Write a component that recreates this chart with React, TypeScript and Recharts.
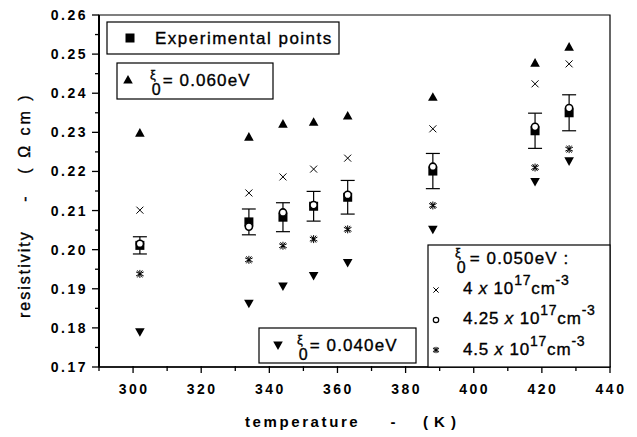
import React from "react";
import { ScatterChart, Scatter, XAxis, YAxis, ErrorBar, ReferenceArea } from "recharts";

const temps = [302, 334, 344, 353, 363, 388, 418, 428];
const xi060 = [0.2298, 0.2288, 0.2321, 0.2326, 0.2342, 0.239, 0.2477, 0.2518];
const n400 = [0.2101, 0.2145, 0.2186, 0.2206, 0.2234, 0.2309, 0.2424, 0.2475];
const n425 = [0.2015, 0.2059, 0.2095, 0.2114, 0.214, 0.2212, 0.2314, 0.2362];
const n450 = [0.1938, 0.1974, 0.201, 0.2027, 0.2052, 0.2113, 0.221, 0.2257];
const xi040 = [0.179, 0.1863, 0.1907, 0.1934, 0.1967, 0.2052, 0.2174, 0.2227];
const expVals = [0.2011, 0.2071, 0.2083, 0.2111, 0.2134, 0.2201, 0.2304, 0.235];
const expErr = [0.0022, 0.0033, 0.0037, 0.0038, 0.0043, 0.0045, 0.0045, 0.0046];

const xMajor = [300, 320, 340, 360, 380, 400, 420, 440];
const xMinor = [290, 310, 330, 350, 370, 390, 410, 430];
const yMajor = [0.17, 0.18, 0.19, 0.2, 0.21, 0.22, 0.23, 0.24, 0.25, 0.26];
const yMinor = [0.175, 0.185, 0.195, 0.205, 0.215, 0.225, 0.235, 0.245, 0.255];

const FONT = "'Liberation Sans', Arial, sans-serif";

const mk = (vals: number[], err?: number[]) =>
  temps.map((t, i) => ({ t, v: vals[i], err: err ? err[i] : 0 }));

const triUp = (cx: number, cy: number, s = 1) => (
  <path d={`M${cx},${cy - 5 * s} L${cx + 4.8 * s},${cy + 3.6 * s} L${cx - 4.8 * s},${cy + 3.6 * s} Z`} fill="#000" />
);
const triDown = (cx: number, cy: number, s = 1) => (
  <path d={`M${cx},${cy + 5 * s} L${cx + 4.8 * s},${cy - 3.6 * s} L${cx - 4.8 * s},${cy - 3.6 * s} Z`} fill="#000" />
);
const xMark = (cx: number, cy: number, s = 1) => (
  <path
    d={`M${cx - 3.5 * s},${cy - 3.5 * s} L${cx + 3.5 * s},${cy + 3.5 * s} M${cx + 3.5 * s},${cy - 3.5 * s} L${cx - 3.5 * s},${cy + 3.5 * s}`}
    stroke="#000"
    strokeWidth={1}
    fill="none"
  />
);
const circ = (cx: number, cy: number, s = 1) => (
  <circle cx={cx} cy={cy} r={3.6 * s} fill="#fff" stroke="#000" strokeWidth={1.6 * s} />
);
const sq = (cx: number, cy: number) => <rect x={cx - 4.5} y={cy - 4.5} width={9} height={9} fill="#000" />;
const star = (cx: number, cy: number, s = 1) => (
  <path
    d={`M${cx},${cy - 4 * s} L${cx},${cy + 4 * s} M${cx - 3.8 * s},${cy - 2 * s} L${cx + 3.8 * s},${cy + 2 * s} M${cx + 3.8 * s},${cy - 2 * s} L${cx - 3.8 * s},${cy + 2 * s} M${cx - 2.5 * s},${cy - 3.5 * s} L${cx + 2.5 * s},${cy + 3.5 * s} M${cx + 2.5 * s},${cy - 3.5 * s} L${cx - 2.5 * s},${cy + 3.5 * s}`}
    stroke="#000"
    strokeWidth={1}
    fill="none"
  />
);

const shapeOf = (fn: (cx: number, cy: number) => React.ReactElement) => (p: any) => fn(p.cx, p.cy);

const XTick = (props: any) => {
  const { x, y, payload } = props;
  const major = xMajor.includes(payload.value);
  return (
    <g>
      <line x1={x} x2={x} y1={y - 1} y2={y + (major ? 6 : 4)} stroke="#000" strokeWidth={1.3} />
      {major && (
        <text x={x + 1} y={y + 27} textAnchor="middle" fontFamily={FONT} fontSize={14} fontWeight="bold" letterSpacing={2.5} fill="#000">
          {payload.value}
        </text>
      )}
    </g>
  );
};

const YTick = (props: any) => {
  const { x, y, payload } = props;
  const major = yMajor.some((m) => Math.abs(m - payload.value) < 1e-6);
  return (
    <g>
      <line x1={x - (major ? 7 : 4)} x2={x} y1={y} y2={y} stroke="#000" strokeWidth={1.3} />
      {major && (
        <text x={x - 11} y={y + 5} textAnchor="end" fontFamily={FONT} fontSize={14} fontWeight="bold" letterSpacing={2.5} fill="#000">
          {payload.value.toFixed(2)}
        </text>
      )}
    </g>
  );
};

const txt = { fontFamily: FONT, fill: "#000", fontWeight: "bold" as const };
const txtR = { fontFamily: FONT, fill: "#000", fontWeight: "normal" as const, stroke: "#000", strokeWidth: 0.35 };

const Xi = ({ x, y, rest, gap = 2 }: { x: number; y: number; rest: string; gap?: number }) => (
  <text x={x} y={y} {...txtR} style={{ whiteSpace: "pre" }}>
    <tspan fontSize={13} dy={-7}>ξ</tspan>
    <tspan fontSize={16} dx={-4} dy={16}>0</tspan>
    <tspan fontSize={17} dx={gap} dy={-9} letterSpacing={1.1}>{rest}</tspan>
  </text>
);

const Conc = ({ x, y, a }: { x: number; y: number; a: string }) => (
  <text x={x} y={y} fontSize={17} letterSpacing={0.8} {...txtR} style={{ whiteSpace: "pre" }}>
    <tspan>{a + " "}</tspan>
    <tspan fontStyle="italic">x</tspan>
    <tspan>{" 10"}</tspan>
    <tspan dy={-9} fontSize={14}>17</tspan>
    <tspan dy={9}>cm</tspan>
    <tspan dy={-9} fontSize={14}>-3</tspan>
  </text>
);

export default function App() {
  return (
    <div style={{ position: "absolute", left: 0, top: 0, width: 637, height: 437, background: "#fff" }}>
      <ScatterChart width={637} height={437} margin={{ top: 15, right: 27, bottom: 0, left: 0 }}>
        <XAxis
          dataKey="t"
          type="number"
          domain={[290, 440]}
          ticks={[...xMinor, ...xMajor].sort((a, b) => a - b)}
          interval={0}
          tick={<XTick />}
          tickLine={false}
          tickSize={0}
          tickMargin={0}
          height={70}
          allowDataOverflow
          axisLine={{ stroke: "#000", strokeWidth: 1.6 }}
        />
        <YAxis
          dataKey="v"
          type="number"
          domain={[0.17, 0.26]}
          ticks={[...yMinor, ...yMajor].sort((a, b) => a - b)}
          interval={0}
          tick={<YTick />}
          tickLine={false}
          tickSize={0}
          tickMargin={0}
          width={99}
          allowDataOverflow
          axisLine={{ stroke: "#000", strokeWidth: 2 }}
        />
        <ReferenceArea x1={290} x2={440} y1={0.17} y2={0.26} fill="none" stroke="#000" strokeWidth={1.2} />
        <Scatter data={mk(xi060)} shape={shapeOf(triUp)} isAnimationActive={false} />
        <Scatter data={mk(n400)} shape={shapeOf(xMark)} isAnimationActive={false} />
        <Scatter data={mk(n450)} shape={shapeOf(star)} isAnimationActive={false} />
        <Scatter data={mk(xi040)} shape={shapeOf(triDown)} isAnimationActive={false} />
        <Scatter data={mk(expVals, expErr)} shape={shapeOf(sq)} isAnimationActive={false}>
          <ErrorBar dataKey="err" direction="y" width={7} stroke="#000" strokeWidth={1.2} />
        </Scatter>
        <Scatter data={mk(n425)} shape={shapeOf(circ)} isAnimationActive={false} />
      </ScatterChart>
      <svg width={637} height={437} style={{ position: "absolute", left: 0, top: 0, pointerEvents: "none" }}>
        {/* legend: experimental points */}
        <rect x={107} y={22} width={232} height={32} fill="#fff" stroke="#000" strokeWidth={1.2} />
        {sq(130, 38)}
        <text x={155} y={44} fontSize={17} letterSpacing={1.5} {...txtR}>Experimental points</text>
        {/* legend: 0.060 eV */}
        <rect x={117} y={63} width={156} height={36} fill="#fff" stroke="#000" strokeWidth={1.2} />
        {triUp(128, 80)}
        <Xi x={150} y={86} rest="= 0.060eV" />
        {/* legend: 0.040 eV */}
        <rect x={259} y={328} width={157} height={35} fill="#fff" stroke="#000" strokeWidth={1.2} />
        {triDown(278, 345)}
        <Xi x={297} y={351} rest="= 0.040eV" />
        {/* legend: 0.050 eV */}
        <rect x={428} y={245} width={182} height={122} fill="#fff" stroke="#000" strokeWidth={1.2} />
        <Xi x={455} y={264} rest={"= 0.050eV :"} gap={4} />
        {xMark(436, 290, 0.75)}
        <Conc x={463} y={294} a="4" />
        {circ(436, 320, 0.75)}
        <Conc x={463} y={324} a="4.25" />
        {star(436, 350, 0.8)}
        <Conc x={463} y={355} a="4.5" />
        {/* axis titles */}
        <text x={245} y={427} fontSize={15} letterSpacing={2.6} {...txt}>temperature</text>
        <text x={393} y={427} fontSize={15} textAnchor="middle" {...txt}>-</text>
        <text x={440} y={427} fontSize={15} textAnchor="middle" letterSpacing={1} {...txt} style={{ whiteSpace: "pre" }}>( K )</text>
        <g transform="translate(30,318) rotate(-90)">
          <text x={0} y={0} fontSize={16} letterSpacing={2} {...txtR}>resistivity</text>
          <text x={119} y={0} fontSize={16} textAnchor="middle" {...txtR}>-</text>
          <text x={185} y={0} fontSize={16} textAnchor="middle" letterSpacing={3} {...txtR} style={{ whiteSpace: "pre" }}>( Ω cm )</text>
        </g>
      </svg>
    </div>
  );
}
